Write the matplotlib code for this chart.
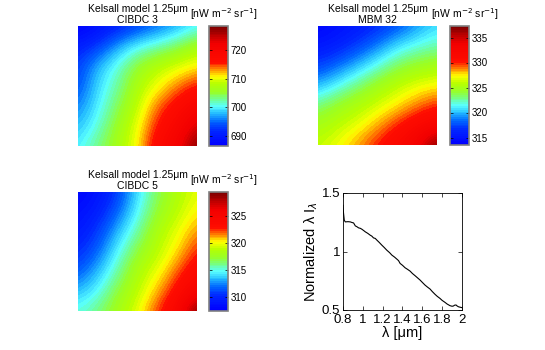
import numpy as np
import matplotlib
matplotlib.use('Agg')
import matplotlib.pyplot as plt
from matplotlib.colors import LinearSegmentedColormap

plt.rcParams['font.family'] = ['Liberation Sans', 'DejaVu Sans']

cibdc3 = np.array([
    [686.5, 688.6, 690.7, 692.8, 694.9, 697.0, 699.9],
    [690.7, 692.8, 697.0, 700.3, 702.0, 704.1, 707.0],
    [692.8, 697.8, 701.2, 705.4, 708.0, 709.5, 711.0],
    [693.6, 699.1, 702.4, 707.3, 710.3, 713.5, 716.0],
    [695.7, 699.9, 704.1, 708.5, 714.0, 717.0, 720.0],
    [697.8, 701.2, 705.8, 710.0, 716.0, 719.0, 724.0],
    [699.9, 703.3, 706.6, 710.8, 718.0, 720.9, 728.4]])
mbm32 = np.array([
    [314.0, 314.7, 315.4, 316.4, 317.5, 319.2, 320.6],
    [315.2, 315.9, 317.1, 318.7, 320.6, 321.6, 322.3],
    [317.1, 318.3, 319.9, 321.6, 323.5, 324.4, 324.9],
    [319.7, 321.4, 323.0, 324.7, 325.9, 326.8, 327.3],
    [323.0, 324.4, 325.4, 326.4, 327.5, 328.8, 329.8],
    [324.9, 325.9, 326.8, 328.3, 330.0, 331.4, 332.5],
    [326.1, 327.1, 328.5, 330.2, 331.6, 333.5, 337.3]])
cibdc5 = np.array([
    [307.7, 308.6, 310.6, 314.0, 316.6, 318.4, 319.7],
    [308.4, 309.5, 311.7, 314.6, 317.3, 318.8, 320.4],
    [309.1, 310.6, 313.3, 315.7, 318.4, 319.7, 321.5],
    [310.0, 311.7, 314.6, 317.1, 318.8, 320.4, 322.8],
    [311.3, 313.3, 315.7, 318.4, 319.7, 322.0, 324.0],
    [313.3, 314.6, 317.1, 318.8, 321.0, 323.3, 325.5],
    [315.1, 316.2, 318.0, 319.7, 322.4, 324.6, 329.5]])
names = ['CIBDC 3', 'MBM 32', 'CIBDC 5']
clims = [(686.5, 728.4), (313.5, 337.3), (307.3, 329.5)]
cticks = [[690, 700, 710, 720], [315, 320, 325, 330, 335], [310, 315, 320, 325]]

# normalized spectrum
wl = [0.80, 0.805, 0.813, 0.823, 0.85, 0.874, 0.89, 0.907, 0.915, 0.924, 0.94, 0.957,
      0.975, 0.991, 1.01, 1.025, 1.05, 1.075, 1.09, 1.108, 1.125, 1.142, 1.165, 1.192,
      1.215, 1.242, 1.27, 1.293, 1.32, 1.343, 1.36, 1.376, 1.40, 1.426, 1.45, 1.477,
      1.50, 1.527, 1.55, 1.577, 1.60, 1.627, 1.65, 1.678, 1.70, 1.728, 1.75, 1.778,
      1.80, 1.829, 1.85, 1.879, 1.90, 1.913, 1.925, 1.94, 1.95, 1.963, 1.98, 2.0]
norm = [1.395, 1.33, 1.267, 1.253, 1.255, 1.253, 1.248, 1.244, 1.232, 1.219, 1.212, 1.202,
        1.198, 1.19, 1.178, 1.168, 1.155, 1.139, 1.132, 1.116, 1.112, 1.097, 1.078, 1.054,
        1.035, 1.011, 0.99, 0.969, 0.952, 0.935, 0.922, 0.898, 0.882, 0.861, 0.848, 0.832,
        0.812, 0.793, 0.776, 0.756, 0.736, 0.713, 0.697, 0.679, 0.658, 0.634, 0.617, 0.599,
        0.582, 0.565, 0.551, 0.537, 0.532, 0.534, 0.541, 0.543, 0.535, 0.528, 0.524, 0.520]

# jet-like map as seen in the colorbars
cmap = LinearSegmentedColormap.from_list('jetish', [
    (0.00, (0.0, 0.0, 1.0)),
    (0.12, (0.0, 0.15, 1.0)),
    (0.20, (0.0, 0.4, 1.0)),
    (0.27, (0.15, 0.75, 1.0)),
    (0.33, (0.35, 1.0, 1.0)),
    (0.39, (0.45, 1.0, 0.55)),
    (0.45, (0.6, 1.0, 0.15)),
    (0.52, (0.72, 1.0, 0.0)),
    (0.58, (1.0, 1.0, 0.0)),
    (0.64, (1.0, 0.55, 0.0)),
    (0.70, (1.0, 0.05, 0.0)),
    (0.86, (0.95, 0.0, 0.0)),
    (1.00, (0.5, 0.0, 0.0))], N=64)

fig = plt.figure(figsize=(5.45, 3.5), dpi=100)
W, H = 545.0, 350.0

def box(x0, y0, x1, y1):
    return [x0 / W, 1 - y1 / H, (x1 - x0) / W, (y1 - y0) / H]

img_boxes = [box(78, 26, 197, 146), box(318, 26, 437, 145), box(78, 192, 197, 311)]
cb_boxes = [box(209, 26, 228, 146), box(450, 26, 469, 145), box(209, 192, 228, 311)]

for data, name, clim, ticks, ib, cb in zip([cibdc3, mbm32, cibdc5], names, clims,
                                             cticks, img_boxes, cb_boxes):
    ax = fig.add_axes(ib)
    n = data.shape[0]
    h = 0.5 / (n - 1)
    im = ax.imshow(data, cmap=cmap, vmin=clim[0], vmax=clim[1], aspect='auto',
                   interpolation='bicubic', extent=(-h, 1 + h, 1 + h, -h))
    ax.set_xlim(0, 1)
    ax.set_ylim(1, 0)
    ax.axis('off')
    ax.set_title('Kelsall model 1.25\u03bcm\n' + name, fontsize=7.5, pad=2,
                 linespacing=1.1, multialignment='center')
    cax = fig.add_axes(cb)
    c = fig.colorbar(im, cax=cax, ticks=ticks)
    c.outline.set_edgecolor('#808080')
    c.outline.set_linewidth(1.2)
    cax.tick_params(labelsize=7, direction='in', length=2, width=0.5, pad=2,
                    left=True, right=True)
    cax.text(0.8, 1.0 + 4.0 / (cb[3] * H), r'[nW m$^{-2}$ sr$^{-1}$]',
             transform=cax.transAxes, ha='center', va='bottom', fontsize=7.5)

ax4 = fig.add_axes(box(343, 193, 462, 310))
ax4.plot(wl, norm, color='black', lw=0.8)
ax4.set_xlim(0.8, 2)
ax4.set_ylim(0.5, 1.5)
ax4.set_xticks([0.8, 1, 1.2, 1.4, 1.6, 1.8, 2])
ax4.set_xticklabels(['0.8', '1', '1.2', '1.4', '1.6', '1.8', '2'])
ax4.set_yticks([0.5, 1, 1.5])
ax4.set_yticklabels(['0.5', '1', '1.5'])
ax4.tick_params(labelsize=9.5, direction='in', length=3, width=0.5,
                top=True, right=True)
ax4.tick_params(axis='x', pad=3)
ax4.tick_params(axis='y', pad=2)
for s in ax4.spines.values():
    s.set_linewidth(0.6)
ax4.set_xlabel('\u03bb [\u03bcm]', fontsize=10.5, labelpad=0)
ax4.set_ylabel('Normalized \u03bb I$_\u03bb$', fontsize=10.5, labelpad=1)

fig.savefig('out.png', dpi=100)
